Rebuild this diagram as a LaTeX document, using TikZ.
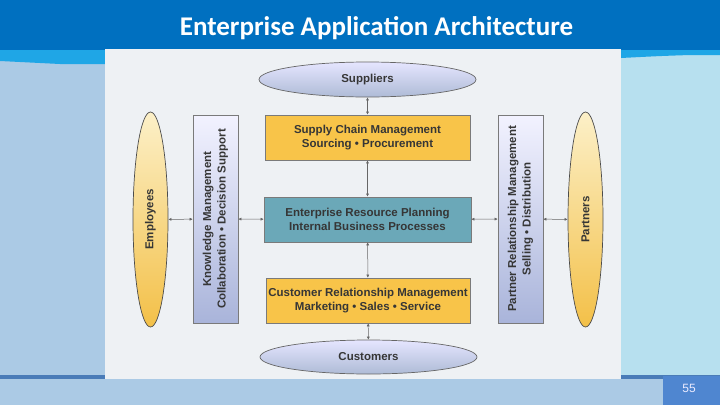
\documentclass[tikz,border=0pt]{standalone}
\usepackage{fontspec}
\setmainfont{Liberation Sans}
\newfontfamily\titlefont{Carlito}
\usetikzlibrary{shapes.geometric,arrows.meta}
\definecolor{topblue}{HTML}{0070C0}
\definecolor{stripcyan}{HTML}{1FA6E6}
\definecolor{leftbg}{HTML}{ABCAE5}
\definecolor{rightbg}{HTML}{B7E0EF}
\definecolor{botline}{HTML}{4A7CB8}
\definecolor{pagebox}{HTML}{4F86D0}
\definecolor{panel}{HTML}{EEF1F4}
\definecolor{gold}{HTML}{F8C449}
\definecolor{teal}{HTML}{6BA8B8}
\definecolor{txt}{HTML}{363636}
\definecolor{edge}{HTML}{7A7A7A}
\definecolor{lav}{HTML}{A9B4DA}
\definecolor{supblue}{HTML}{AEBBD6}
\definecolor{yel}{HTML}{F3C048}
\definecolor{cream}{HTML}{FCF0C8}
\tikzset{
  lbl/.style={font=\bfseries\fontsize{11.5}{14.5}\selectfont, text=txt, align=center, inner sep=0pt},
  hbox/.style={lbl, rectangle, draw=edge, line width=0.6pt},
  vbox/.style={lbl, rectangle, draw=edge, line width=0.6pt, rotate=90,
    minimum width=208pt, minimum height=45pt, top color=white!95!blue, bottom color=lav},
  hell/.style={lbl, ellipse, draw=gray!80!black, line width=0.7pt, inner sep=0pt,
    minimum width=217pt, minimum height=35pt, top color=white!90!blue, bottom color=supblue},
  vell/.style={lbl, ellipse, draw=gray!60!black, line width=0.7pt, inner sep=0pt, rotate=90,
    minimum width=215pt, minimum height=35pt, top color=cream, bottom color=yel},
  link/.style={draw=gray!80!black, line width=0.5pt, {Latex[length=3pt,width=3pt]}-{Latex[length=3pt,width=3pt]}}
}
\begin{document}
\begin{tikzpicture}[x=1pt,y=-1pt]
\useasboundingbox (0,0) rectangle (720,405);
% background
\fill[leftbg] (0,0) rectangle (720,405);
\fill[rightbg] (621,50) rectangle (720,376);
\fill[topblue] (0,0) rectangle (720,50);
\fill[stripcyan] (0,50) -- (105,50) -- (105,64) -- (60,64) .. controls (30,62) .. (0,61) -- cycle;
\fill[stripcyan] (621,50) -- (720,50) -- (720,55) -- (690,55) .. controls (660,56) .. (621,58) -- cycle;
\fill[botline] (0,375) rectangle (720,379);
\fill[leftbg] (0,379) rectangle (663,405);
\fill[pagebox] (663,376) rectangle (720,405);
\fill[panel] (105,49) rectangle (621,379);
\node[font=\titlefont\bfseries\fontsize{27}{31}\selectfont, text=white, inner sep=0pt] (title) at (376.5,28) {Enterprise Application Architecture};
\node[font=\fontsize{12}{14}\selectfont, text=white!92!blue, inner sep=0pt] (pnum) at (689,388) {55};
% diagram
\node[hell] (sup) at (367.5,79.5) {Suppliers};
\node[hbox, fill=gold, minimum width=205pt, minimum height=45pt] (scm) at (367.5,137.5) {Supply Chain Management\\Sourcing • Procurement};
\node[hbox, fill=teal, minimum width=207pt, minimum height=45pt] (erp) at (367.5,219.5) {Enterprise Resource Planning\\Internal Business Processes};
\node[hbox, fill=gold, minimum width=204pt, minimum height=45pt] (crm) at (368,300.5) {Customer Relationship Management\\Marketing • Sales • Service};
\node[hell, minimum height=34pt] (cus) at (368.5,357) {Customers};
\node[vell] (emp) at (150.5,219.5) {Employees};
\node[vbox] (km) at (215.5,219) {Knowledge Management\\Collaboration • Decision Support};
\node[vbox] (prm) at (520.5,219) {Partner Relationship Management\\Selling • Distribution};
\node[vell] (par) at (585.5,219.5) {Partners};
% connectors
\draw[link] (sup) -- (scm);
\draw[link] (scm) -- (erp);
\draw[link] (erp) -- (crm);
\draw[link] (crm) -- (cus);
\draw[link] (emp) -- (km);
\draw[link] (km) -- (erp);
\draw[link] (erp) -- (prm);
\draw[link] (prm) -- (par);
\end{tikzpicture}
\end{document}
